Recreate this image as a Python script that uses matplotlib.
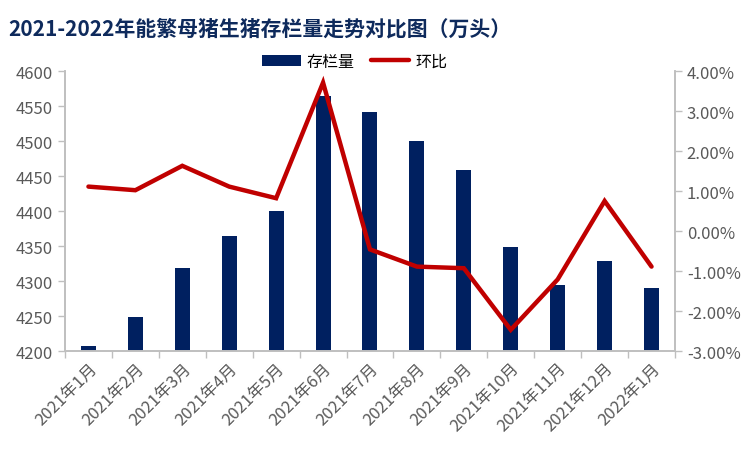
import matplotlib.pyplot as plt
import numpy as np
from matplotlib.ticker import FuncFormatter, MultipleLocator

plt.rcParams['font.family'] = ['Noto Sans CJK SC', 'DejaVu Sans']

# data
months = ["2021年1月", "2021年2月", "2021年3月", "2021年4月", "2021年5月", "2021年6月",
          "2021年7月", "2021年8月", "2021年9月", "2021年10月", "2021年11月", "2021年12月",
          "2022年1月"]
stock = [4207, 4248, 4318, 4365, 4400, 4564, 4541, 4500, 4458, 4348, 4295, 4328, 4290]
mom_pct = [1.11, 1.02, 1.63, 1.11, 0.82, 3.71, -0.46, -0.89, -0.93, -2.47, -1.21, 0.75, -0.89]

navy = "#002060"
red = "#c00000"
grey = "#595959"
spine_c = "#bfbfbf"

fig = plt.figure(figsize=(7.52, 4.52), dpi=100)
ax = fig.add_axes([0.0864, 0.2212, 0.8112, 0.6195])
ax2 = ax.twinx()

x = np.arange(len(months))
bars = ax.bar(x, stock, width=0.32, color=navy, label="存栏量", zorder=2)
line, = ax2.plot(x, mom_pct, color=red, lw=3.2, label="环比", solid_capstyle="round",
                 solid_joinstyle="miter", zorder=3)

ax.set_xlim(-0.5, len(months) - 0.5)
ax.set_ylim(4200, 4600)
ax.yaxis.set_major_locator(MultipleLocator(50))
ax2.set_ylim(-3, 4)
ax2.yaxis.set_major_locator(MultipleLocator(1))
ax2.yaxis.set_major_formatter(FuncFormatter(lambda v, p: f"{v:.2f}%"))

# bars on the first axes, line drawn above them
ax.set_zorder(1)
ax2.set_zorder(2)
ax.patch.set_visible(False)

ax.set_xticks(x)
ax.set_xticklabels(months, rotation=45, ha="right", rotation_mode="anchor",
                   fontsize=12, color=grey)
ax.set_xticks(np.arange(-0.5, len(months)), minor=True)
ax.tick_params(axis="x", which="major", length=0, pad=6)
ax.tick_params(axis="x", which="minor", length=5, color=spine_c, width=1)
ax.tick_params(axis="y", labelsize=12, labelcolor=grey, color=spine_c, length=5, width=1)
ax2.tick_params(axis="y", labelsize=12, labelcolor=grey, color=spine_c, length=5, width=1)

for a in (ax, ax2):
    a.spines["top"].set_visible(False)
    for s in ("left", "right", "bottom"):
        a.spines[s].set_color(spine_c)
        a.spines[s].set_linewidth(1.2)

fig.text(0.011, 0.935, "2021-2022年能繁母猪生猪存栏量走势对比图（万头）",
         fontsize=15, fontweight="bold", color="#0e2a5c", va="center")

fig.legend([bars, line], ["存栏量", "环比"], loc="center", bbox_to_anchor=(0.472, 0.862),
           ncol=2, frameon=False, fontsize=11.5, handlelength=2.4, columnspacing=1.0,
           handletextpad=0.4)

fig.savefig("out.png", dpi=100)
